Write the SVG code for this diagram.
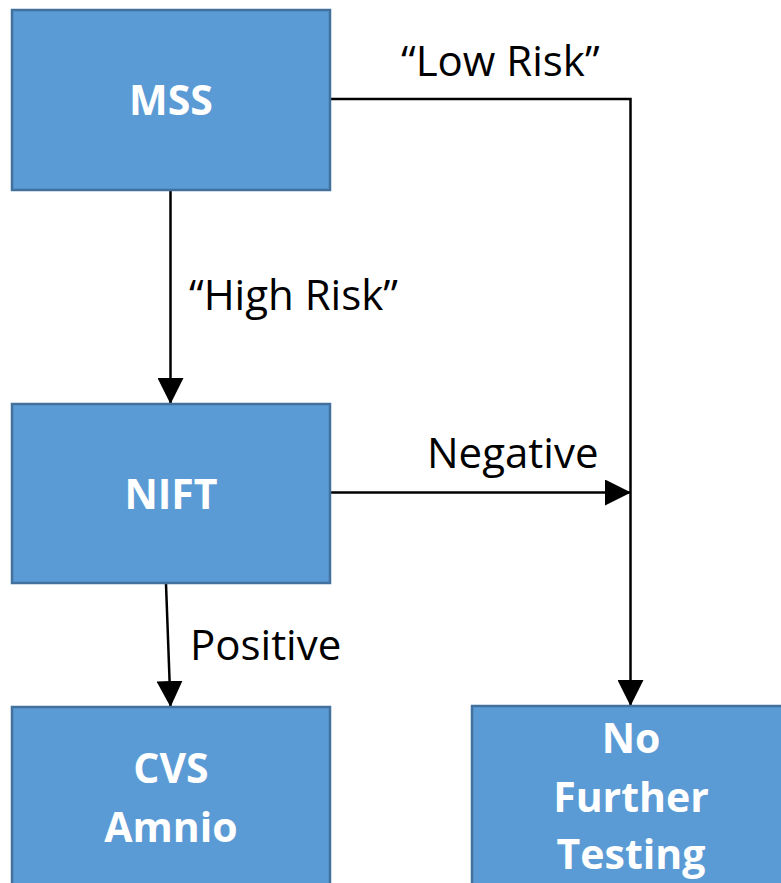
<svg xmlns="http://www.w3.org/2000/svg" width="781" height="883" viewBox="0 0 781 883">
  <style>
    .box { fill: #5B9BD5; stroke: #41719C; stroke-width: 2.5; }
    .node-text { font-family: "Open Sans", "Liberation Sans", sans-serif; font-weight: bold; font-size: 41px; fill: #FFFFFF; text-anchor: middle; }
    .edge { fill: none; stroke: #000000; stroke-width: 2.5; }
    .edge-label { font-family: "Open Sans", "Liberation Sans", sans-serif; font-size: 42px; fill: #000000; }
  </style>
  <defs>
    <marker id="arrow" markerUnits="userSpaceOnUse" markerWidth="26" markerHeight="26" viewBox="0 0 26 26" refX="25" refY="13" orient="auto">
      <path d="M0,0 L26,13 L0,26 Z" fill="#000000"/>
    </marker>
  </defs>
  <rect width="781" height="883" fill="#FFFFFF"/>

  <g id="connectors">
    <!-- MSS -> NIFT -->
    <line class="edge" x1="170.5" y1="190" x2="170.5" y2="403" marker-end="url(#arrow)"/>
    <!-- MSS -> No Further Testing -->
    <path class="edge" d="M330,99 L630.5,99 L630.5,705" marker-end="url(#arrow)"/>
    <!-- NIFT -> junction -->
    <line class="edge" x1="330" y1="492.5" x2="630" y2="492.5" marker-end="url(#arrow)"/>
    <!-- NIFT -> CVS Amnio -->
    <line class="edge" x1="166" y1="584" x2="170.5" y2="706" marker-end="url(#arrow)"/>
    <text class="edge-label" x="401" y="76">“Low Risk”</text>
    <text class="edge-label" x="189" y="310">“High Risk”</text>
    <text class="edge-label" x="427" y="468">Negative</text>
    <text class="edge-label" x="190" y="660">Positive</text>
  </g>

  <g id="node-mss">
    <rect class="box" x="12" y="10" width="318" height="180"/>
    <text class="node-text" x="171" y="115">MSS</text>
  </g>

  <g id="node-nift">
    <rect class="box" x="12" y="404" width="318" height="179"/>
    <text class="node-text" x="171" y="509">NIFT</text>
  </g>

  <g id="node-cvs-amnio">
    <rect class="box" x="12" y="707" width="318" height="190"/>
    <text class="node-text" x="171" y="783">CVS</text>
    <text class="node-text" x="171" y="842">Amnio</text>
  </g>

  <g id="node-no-further-testing">
    <rect class="box" x="472" y="706" width="318" height="190"/>
    <text class="node-text" x="631" y="753">No</text>
    <text class="node-text" x="631" y="812">Further</text>
    <text class="node-text" x="631" y="869">Testing</text>
  </g>
</svg>
